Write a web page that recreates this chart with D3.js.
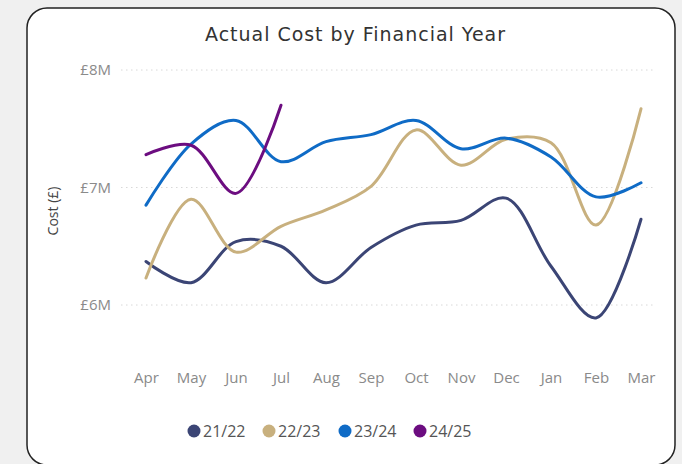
<!DOCTYPE html>
<html>
<head>
<meta charset="utf-8">
<script src="https://cdn.jsdelivr.net/npm/d3@7"></script>
<style>
  body { margin: 0; background: #fff; }
  svg { display: block; }
</style>
</head>
<body>
<div id="chart"></div>
<script>
// chart data, in £M
var months = ["Apr", "May", "Jun", "Jul", "Aug", "Sep", "Oct", "Nov", "Dec", "Jan", "Feb", "Mar"];
var years = ["21/22", "22/23", "23/24", "24/25"];
var colours = ["#3b4575", "#c8b07e", "#0f6bc6", "#6c0d80"];
var yTicks = [6, 7, 8];

var cost2122 = [6.37, 6.19, 6.54, 6.50, 6.19, 6.49, 6.68, 6.72, 6.91, 6.33, 5.89, 6.73];
var cost2223 = [6.23, 6.90, 6.45, 6.67, 6.81, 7.01, 7.49, 7.19, 7.41, 7.38, 6.68, 7.67];
var cost2324 = [6.85, 7.37, 7.57, 7.22, 7.39, 7.45, 7.57, 7.33, 7.42, 7.26, 6.92, 7.04];
var cost2425 = [7.28, 7.36, 6.95, 7.70];

var series = [cost2122, cost2223, cost2324, cost2425];

var W = 682, H = 464;
var svg = d3.select("#chart").append("svg").attr("width", W).attr("height", H);

svg.append("rect").attr("width", W).attr("height", H).attr("fill", "#f0f0f0");
svg.append("rect")
    .attr("x", 27).attr("y", 8)
    .attr("width", 648).attr("height", 457)
    .attr("rx", 20)
    .attr("fill", "#fff")
    .attr("stroke", "#222")
    .attr("stroke-width", 1.5);

svg.append("text")
    .attr("x", 355).attr("y", 41)
    .attr("text-anchor", "middle")
    .attr("font-family", "'DejaVu Sans', sans-serif")
    .attr("font-size", 19)
    .attr("textLength", 300)
    .attr("lengthAdjust", "spacing")
    .attr("fill", "#333")
    .text("Actual Cost by Financial Year");

var x = d3.scalePoint().domain(months).range([146, 641]);
var y = d3.scaleLinear().domain([6, 8]).range([305, 70]);

// grid
svg.append("g").selectAll("line")
    .data(yTicks)
    .join("line")
    .attr("x1", 121).attr("x2", 656)
    .attr("y1", d => y(d)).attr("y2", d => y(d))
    .attr("stroke", "#d8d8d8")
    .attr("stroke-dasharray", "1.5,3.5");

var font = "'Segoe UI', 'Open Sans', sans-serif";

var yAxis = svg.append("g")
    .attr("transform", "translate(111,0)")
    .call(d3.axisLeft(y).tickValues(yTicks).tickSize(0).tickPadding(0).tickFormat(d => "£" + d + "M"));
yAxis.select(".domain").remove();
yAxis.selectAll("text").attr("font-family", font).attr("font-size", 15).attr("fill", "#8a8a8a");

var xAxis = svg.append("g")
    .attr("transform", "translate(0,372)")
    .call(d3.axisBottom(x).tickSize(0).tickPadding(0));
xAxis.select(".domain").remove();
xAxis.selectAll("text").attr("font-family", font).attr("font-size", 15).attr("fill", "#8a8a8a");

svg.append("text")
    .attr("transform", "translate(58,211) rotate(-90)")
    .attr("text-anchor", "middle")
    .attr("font-family", font)
    .attr("font-size", 14)
    .attr("fill", "#444")
    .text("Cost (£)");

var line = d3.line()
    .x((d, i) => x(months[i]))
    .y(d => y(d))
    .curve(d3.curveCatmullRom.alpha(0.5));

svg.append("g").selectAll("path")
    .data(series)
    .join("path")
    .attr("d", d => line(d))
    .attr("fill", "none")
    .attr("stroke", (d, i) => colours[i])
    .attr("stroke-width", 3)
    .attr("stroke-linecap", "round");

// legend
var legendX = [194, 269, 345, 420];
var legend = svg.append("g").selectAll("g")
    .data(years)
    .join("g")
    .attr("transform", (d, i) => "translate(" + legendX[i] + ",431)");
legend.append("circle").attr("r", 6.5).attr("fill", (d, i) => colours[i]);
legend.append("text")
    .attr("x", 9).attr("dy", "0.36em")
    .attr("font-family", font)
    .attr("font-size", 16)
    .attr("fill", "#555")
    .text(d => d);
</script>
</body>
</html>
